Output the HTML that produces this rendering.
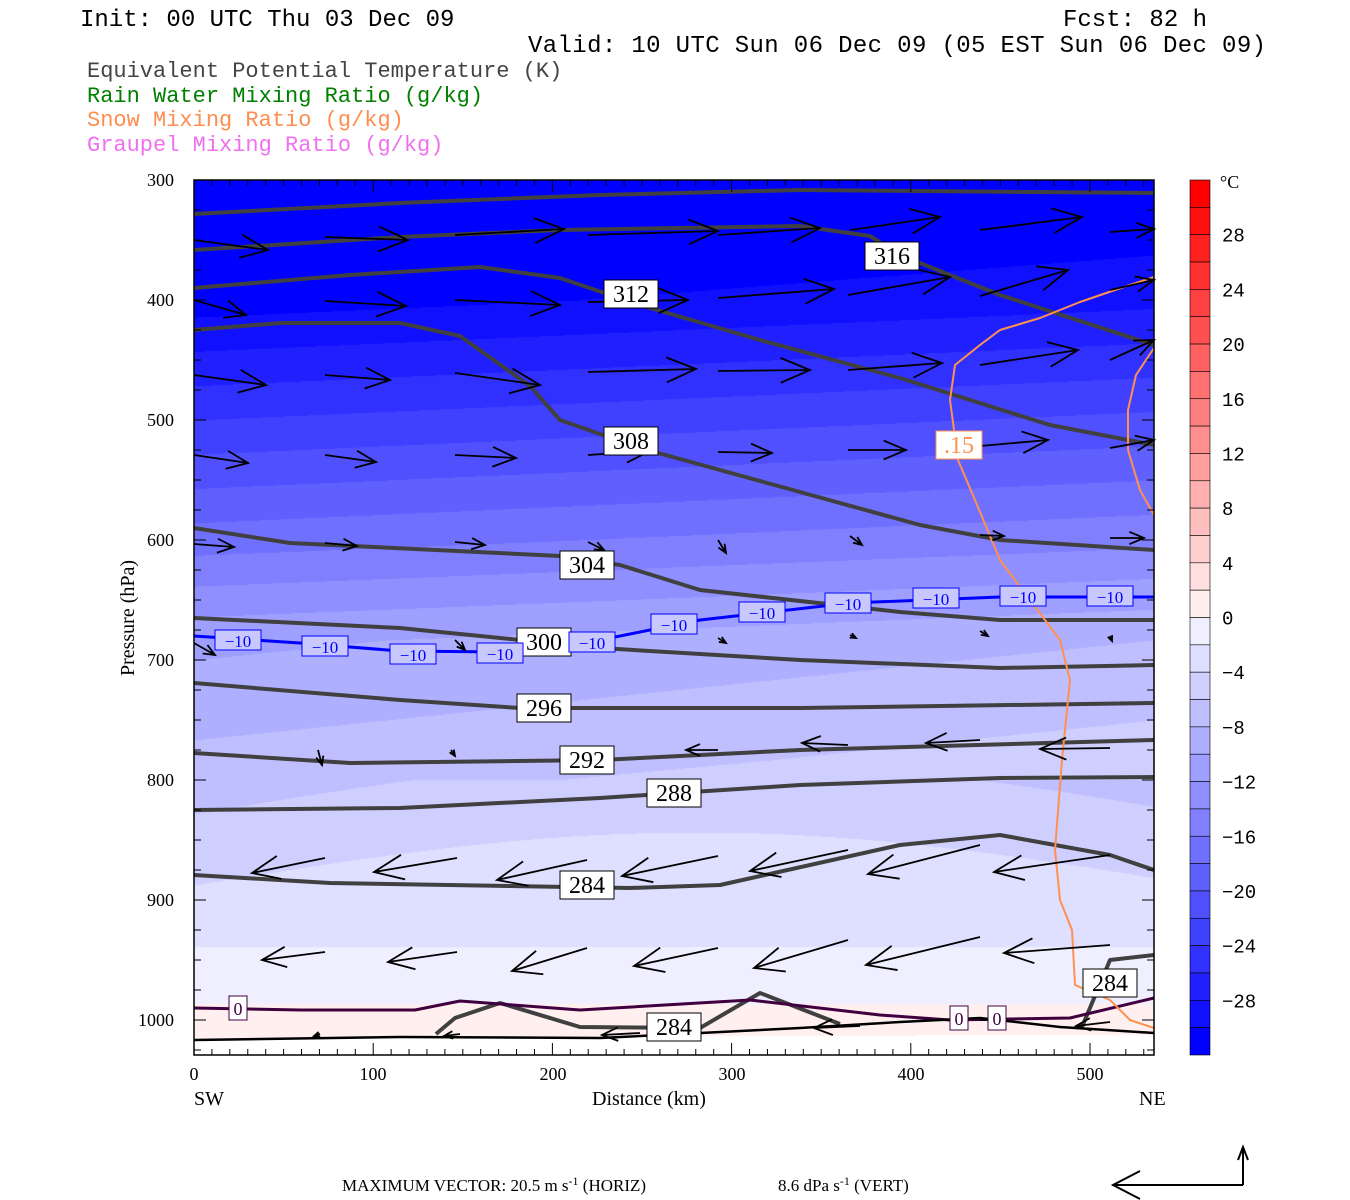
<!DOCTYPE html>
<html><head><meta charset="utf-8"><style>
body{margin:0;background:#fff;width:1350px;height:1200px;overflow:hidden;position:relative;font-family:"Liberation Serif",serif}
canvas{position:absolute;left:0;top:0}
svg{position:absolute;left:0;top:0}
</style></head><body>
<canvas id="c" width="1350" height="1200"></canvas>
<svg id="s" width="1350" height="1200" xmlns="http://www.w3.org/2000/svg" font-family="Liberation Mono, monospace">
<g font-size="24" fill="#000">
<text x="80" y="26">Init: 00 UTC Thu 03 Dec 09</text>
<text x="1063" y="26">Fcst:  82 h</text>
<text x="528" y="52" textLength="738">Valid: 10 UTC Sun 06 Dec 09 (05 EST Sun 06 Dec 09)</text>
</g>
<g font-size="22">
<text x="87" y="77" fill="#444">Equivalent Potential Temperature (K)</text>
<text x="87" y="102" fill="#008000">Rain Water Mixing Ratio (g/kg)</text>
<text x="87" y="126" fill="#ff8c50">Snow Mixing Ratio (g/kg)</text>
<text x="87" y="151" fill="#f070f0">Graupel Mixing Ratio (g/kg)</text>
</g>
<g id="lines"></g>
<g id="ticks" stroke="#000" stroke-width="1"></g>
<rect x="194" y="180" width="960" height="875" fill="none" stroke="#000" stroke-width="1.5"/>
<g font-family="Liberation Serif, serif" font-size="18" text-anchor="end">
<text x="174" y="186">300</text><text x="174" y="306">400</text><text x="174" y="426">500</text>
<text x="174" y="546">600</text><text x="174" y="666">700</text><text x="174" y="786">800</text>
<text x="174" y="906">900</text><text x="174" y="1026">1000</text>
</g>
<text transform="translate(134,618) rotate(-90)" font-family="Liberation Serif, serif" font-size="20" text-anchor="middle">Pressure (hPa)</text>
<g font-family="Liberation Serif, serif" font-size="18" text-anchor="middle">
<text x="194" y="1080">0</text><text x="373" y="1080">100</text><text x="553" y="1080">200</text>
<text x="732" y="1080">300</text><text x="911" y="1080">400</text><text x="1090" y="1080">500</text>
</g>
<g font-family="Liberation Serif, serif" font-size="20">
<text x="194" y="1105">SW</text><text x="592" y="1105">Distance (km)</text><text x="1139" y="1105">NE</text>
<text x="342" y="1191" font-size="17">MAXIMUM VECTOR:  20.5 m s<tspan dy="-6" font-size="12">-1</tspan><tspan dy="6"> (HORIZ)</tspan></text>
<text x="778" y="1191" font-size="17">8.6 dPa s<tspan dy="-6" font-size="12">-1</tspan><tspan dy="6"> (VERT)</tspan></text>
</g>
<g stroke="#000" stroke-width="2" fill="none">
<path d="M1243,1185 H1113 M1140,1171 L1113,1185 L1140,1199 M1243,1185 V1147 M1238,1160 L1243,1147 L1248,1160"/>
</g>
<g id="cb"></g>
<text x="1220" y="188" font-family="Liberation Serif, serif" font-size="18">°C</text>
<g id="cbl" font-family="Liberation Mono, monospace" font-size="19"></g>
</svg>
<script>
const X0=194,X1=1154,Y0=180,Y1=1055;
function col(T){
 if(T>=0){let k=Math.min(15,Math.floor(T/2));let v=Math.round(255*(15-k)/16);return [255,v,v];}
 let k=Math.min(15,Math.floor(-T/2));let v=Math.round(255*(15-k)/16);return [v,v,255];}
const TP=[[180,-35],[300,-31],[420,-24],[540,-17],[640,-10.5],[760,-7.5],[850,-5],[920,-3],[960,-1.5],[1000,-0.1],[1040,1]];
function Ty(y){for(let i=1;i<TP.length;i++){if(y<=TP[i][0]){const a=TP[i-1],b=TP[i];return a[1]+(b[1]-a[1])*(y-a[0])/(b[0]-a[0]);}}return 1;}
const cv=document.getElementById('c').getContext('2d');
const img=cv.createImageData(X1-X0,Y1-Y0);
for(let y=Y0;y<Y1;y++){for(let x=X0;x<X1;x++){
 let t=(x-X0)/960;let T=Ty(y)+(y<780?2.5*t:(y<900?1.5*Math.sin(t*3):0));
 let c=col(T); if(y>1038-4*t) c=[255,255,255];
 let i=((y-Y0)*(X1-X0)+(x-X0))*4;img.data[i]=c[0];img.data[i+1]=c[1];img.data[i+2]=c[2];img.data[i+3]=255;}}
cv.putImageData(img,X0,Y0);
const NS="http://www.w3.org/2000/svg";
const L=document.getElementById('lines');
function el(n,a,p){const e=document.createElementNS(NS,n);for(const k in a)e.setAttribute(k,a[k]);(p||L).appendChild(e);return e;}
function pl(pts,stroke,w){el('polyline',{points:pts.map(p=>p.join(',')).join(' '),fill:'none',stroke:stroke,'stroke-width':w,'stroke-linejoin':'round'});}
const G='#404040';
pl([[194,214],[400,203],[600,195],[800,190],[1154,193]],G,4);
pl([[194,250],[400,237],[560,230],[800,226],[870,236],[900,255],[1000,295],[1154,345]],G,4);
pl([[194,288],[350,275],[480,267],[560,278],[640,305],[760,340],[900,378],[1050,425],[1154,445]],G,4);
pl([[194,330],[280,323],[400,323],[460,336],[530,386],[560,420],[640,448],[800,492],[920,525],[1000,540],[1154,550]],G,4);
pl([[194,528],[290,543],[560,556],[620,565],[700,590],[900,612],[1000,620],[1154,620]],G,4);
pl([[194,618],[400,628],[600,648],[800,660],[1000,668],[1154,665]],G,4);
pl([[194,683],[400,700],[520,708],[800,708],[1154,703]],G,4);
pl([[194,753],[350,763],[600,760],[800,750],[1154,740]],G,4);
pl([[194,810],[400,808],[600,798],[800,785],[1000,778],[1154,777]],G,4);
pl([[194,875],[330,883],[630,888],[720,885],[900,845],[1000,835],[1110,855],[1154,870]],G,4);
pl([[436,1034],[455,1018],[500,1003],[580,1027],[700,1028],[760,993],[840,1024]],G,4);
pl([[1082,1027],[1110,960],[1154,955]],G,4);
pl([[194,636],[300,643],[400,651],[500,652],[600,640],[700,620],[850,603],[1000,597],[1154,597]],'#0000ff',3);
pl([[194,1008],[300,1010],[415,1010],[460,1001],[580,1010],[750,1000],[880,1015],[950,1020],[1070,1018],[1154,998]],'#400040',3);
pl([[194,1040],[400,1037],[600,1038],[800,1028],[900,1022],[980,1018],[1060,1027],[1154,1033]],'#000',2.5);
pl([[1154,277],[1115,290],[1080,302],[1040,318],[1000,330],[980,345],[955,365],[950,400],[958,460],[975,500],[1000,560],[1030,600],[1060,640],[1070,680],[1062,760],[1055,850],[1060,900],[1072,930],[1075,985],[1110,1000],[1130,1020],[1154,1028]],'#ff9050',2);
pl([[1154,348],[1136,375],[1128,410],[1128,450],[1140,490],[1154,515]],'#ff9050',2);
function arr(x1,y1,x2,y2,w){const a=Math.atan2(y2-y1,x2-x1),h=Math.min(28,Math.hypot(x2-x1,y2-y1)*0.35)+4;
 el('path',{d:`M${x1},${y1}L${x2},${y2}M${x2-h*Math.cos(a-0.4)},${y2-h*Math.sin(a-0.4)}L${x2},${y2}L${x2-h*Math.cos(a+0.4)},${y2-h*Math.sin(a+0.4)}`,stroke:'#000','stroke-width':w||2,fill:'none'});}
const rows=[
[[194,240,268,250],[325,237,408,240],[455,235,564,229],[588,235,718,231],[718,235,820,228],[850,230,940,217],[980,230,1082,217],[1110,232,1154,229]],
[[194,300,246,315],[325,301,406,306],[455,300,560,305],[588,302,688,300],[718,298,834,289],[848,295,950,277],[980,296,1068,270],[1110,290,1154,280]],
[[194,375,266,385],[325,375,390,380],[455,373,540,385],[588,372,696,369],[718,371,810,370],[848,370,942,363],[980,365,1078,350],[1110,360,1154,340]],
[[194,455,248,463],[325,455,376,462],[455,455,516,458],[588,455,650,451],[718,452,772,453],[848,450,906,450],[980,446,1048,440],[1110,448,1154,440]],
[[194,544,234,547],[325,543,357,546],[455,542,485,545],[588,542,604,550],[718,540,726,553],[850,536,862,545],[980,535,1004,536],[1110,538,1144,538]],
[[194,643,215,655],[320,645,340,652],[455,640,465,650],[588,640,598,648],[718,638,726,643],[850,635,856,638],[980,631,988,636],[1110,636,1112,641]],
[[318,750,322,765],[451,750,455,756],[718,750,686,750],[848,745,802,743],[980,740,926,743],[1110,748,1040,749]],
[[325,858,252,873],[457,858,374,872],[587,860,497,880],[718,856,622,876],[848,850,750,871],[980,845,868,874],[1110,855,994,872]],
[[325,952,262,960],[457,952,388,962],[587,948,512,971],[718,948,634,966],[848,940,754,968],[980,937,866,965],[1110,945,1004,953]],
[[320,1034,314,1036],[460,1034,444,1036],[640,1033,602,1035],[860,1026,814,1028],[980,1020,1004,1020],[1110,1022,1076,1026]]];
rows.forEach(r=>r.forEach(v=>arr(...v,1.8)));
function lab(x,y,t,c,w,fs){el('rect',{x:x-w/2,y:y-14,width:w,height:28,fill:'#fff',stroke:c,'stroke-width':1});
 const e=el('text',{x:x,y:y+8,'text-anchor':'middle','font-family':'Liberation Serif, serif','font-size':fs||24,fill:c});e.textContent=t;}
lab(892,256,'316','#000',54);lab(631,294,'312','#000',54);lab(631,441,'308','#000',54);lab(587,565,'304','#000',54);
lab(544,642,'300','#000',54);lab(544,708,'296','#000',54);lab(587,760,'292','#000',54);lab(674,793,'288','#000',54);
lab(587,885,'284','#000',54);lab(674,1027,'284','#000',54);lab(1110,983,'284','#000',54);
lab(959,445,'.15','#ff9050',46);
[[238,640],[325,646],[413,654],[500,653],[592,642],[674,624],[762,612],[848,603],[936,598],[1023,596],[1110,596]].forEach(p=>{
 el('rect',{x:p[0]-23,y:p[1]-10,width:46,height:20,fill:'#c8c8ff',stroke:'#0000ff','stroke-width':1});
 const e=el('text',{x:p[0],y:p[1]+7,'text-anchor':'middle','font-family':'Liberation Serif, serif','font-size':17,fill:'#0000ff'});e.textContent='\u221210';});
[[238,1008],[959,1018],[997,1018]].forEach(p=>{el('rect',{x:p[0]-9,y:p[1]-12,width:18,height:24,fill:'#fff',stroke:'#400040'});
 const e=el('text',{x:p[0],y:p[1]+7,'text-anchor':'middle','font-family':'Liberation Serif, serif','font-size':18,fill:'#400040'});e.textContent='0';});
const TK=document.getElementById('ticks');
for(let p=300;p<=1025;p+=25){const y=180+(p-300)*1.2;if(y>1055)break;const l=(p%100==0)?12:7;el('line',{x1:194,y1:y,x2:194+l,y2:y},TK);el('line',{x1:1154,y1:y,x2:1154-l,y2:y},TK);}
for(let d=0;d<=535;d+=10){const x=194+d*1.792;const l=(d%100==0)?12:6;el('line',{x1:x,y1:1055,x2:x,y2:1055-l},TK);el('line',{x1:x,y1:180,x2:x,y2:180+l},TK);}
const CB=document.getElementById('cb'),h=875/32;
for(let i=0;i<32;i++){const T=30-2*i+0.5;const c=col(T);el('rect',{x:1190,y:180+i*h,width:20,height:h,fill:`rgb(${c})`,stroke:'#000','stroke-width':0.6},CB);}
const CBL=document.getElementById('cbl');
for(let v=28;v>=-28;v-=4){const y=180+(32-v)*h/2;const e=el('text',{x:1222,y:y+7},CBL);e.textContent=(v<0?'\u2212'+(-v):v);}
</script>
</body></html>
